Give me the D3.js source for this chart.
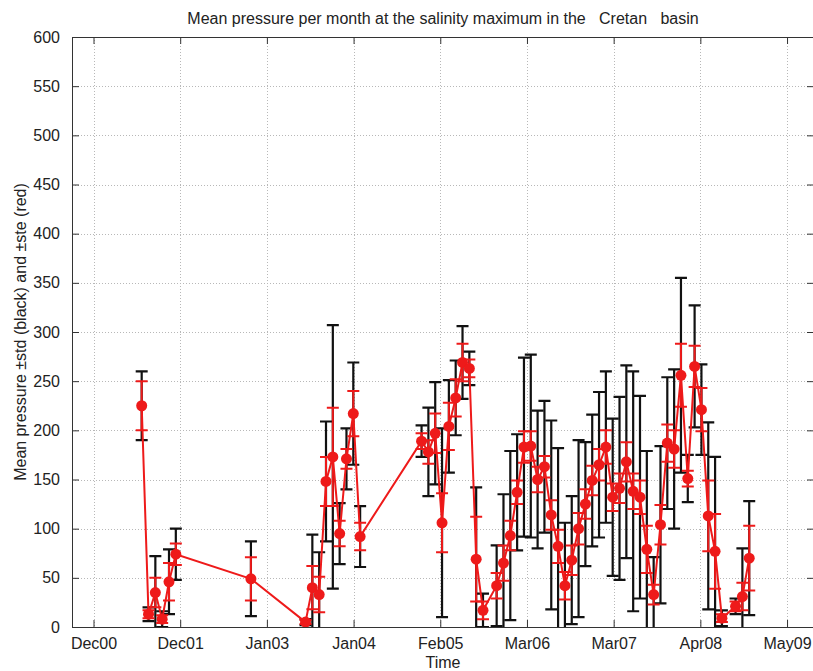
<!DOCTYPE html>
<html>
<head>
<meta charset="utf-8">
<script src="https://cdn.jsdelivr.net/npm/d3@7"></script>
<style>
  body { margin: 0; background: #fff; }
  text { font-family: "Liberation Sans", Arial, Helvetica, sans-serif; fill: #222; }
</style>
</head>
<body>
<svg id="chart" width="813" height="671"></svg>
<script>
// Monthly mean pressure (dbar) at the salinity maximum, Cretan basin
const months = [
  "2001-07","2001-08","2001-09","2001-10","2001-11","2001-12",
  "2002-11",
  "2003-07","2003-08","2003-09","2003-10","2003-11","2003-12","2004-01","2004-02","2004-03",
  "2004-12","2005-01","2005-02","2005-03","2005-04","2005-05","2005-06","2005-07","2005-08","2005-09",
  "2005-11","2005-12","2006-01","2006-02","2006-03","2006-04","2006-05","2006-06","2006-07","2006-08",
  "2006-09","2006-10","2006-11","2006-12","2007-01","2007-02","2007-03","2007-04","2007-05","2007-06",
  "2007-07","2007-08","2007-09","2007-10","2007-11","2007-12","2008-01","2008-02","2008-03","2008-04",
  "2008-05","2008-06","2008-07","2008-08",
  "2008-10","2008-11","2008-12"
];
const meanPressure = [
  225, 13, 35, 8, 46, 74,
  49,
  5, 40, 33, 148, 173, 95, 171, 217, 92,
  189, 178, 197, 106, 204, 233, 269, 263, 69, 17,
  42, 65, 93, 137, 183, 184, 150, 163, 114, 82,
  42, 68, 100, 125, 149, 165, 183, 132, 141, 168,
  138, 132, 79, 33, 104, 187, 181, 256, 151, 265,
  221, 113, 77, 9,
  21, 31, 70
];
const stdPressure = [
  35, 7, 37, 8, 33, 26,
  38,
  3, 54, 43, 61, 134, 31, 31, 52, 31,
  16, 45, 52, 96, 47, 38, 37, 17, 73, 17,
  41, 70, 86, 59, 91, 93, 70, 67, 96, 100,
  64, 65, 90, 63, 67, 74, 77, 80, 93, 98,
  122, 103, 100, 38, 80, 67, 81, 99, 24, 62,
  46, 95, 96, 8,
  8, 49, 58
];
const stePressure = [
  25, 4, 15, 4, 19, 11,
  22,
  2, 22, 18, 25, 50, 13, 10, 23, 14,
  8, 12, 20, 30, 24, 19, 19, 9, 43, 9,
  13, 18, 15, 12, 16, 15, 13, 11, 15, 17,
  14, 15, 16, 15, 15, 16, 17, 14, 15, 20,
  18, 17, 24, 10, 20, 19, 19, 32, 8, 21,
  22, 36, 38, 4,
  5, 14, 33
];

// Axis ticks (time axis in months since Jan 2000)
const xTickMonths = [10.94, 23.64, 36.34, 49.04, 61.74, 74.44, 87.14, 99.84, 112.54];
const xTickLabels = ["Dec00", "Dec01", "Jan03", "Jan04", "Feb05", "Mar06", "Mar07", "Apr08", "May09"];
const yTicks = [0, 50, 100, 150, 200, 250, 300, 350, 400, 450, 500, 550, 600];
const xLimits = [7.79, 116.49];
const yLimits = [0, 600];

const titleText = "Mean pressure per month at the salinity maximum in the \u00a0\u00a0Cretan \u00a0\u00a0basin";
const xLabelText = "Time";
const yLabelText = "Mean pressure \u00b1std (black) and \u00b1ste (red)";

const monthIndex = s => { const [y, m] = s.split("-").map(Number); return (y - 2000) * 12 + (m - 1); };

const data = months.map((m, i) => ({
  t: monthIndex(m), mean: meanPressure[i], std: stdPressure[i], ste: stePressure[i]
}));

const svg = d3.select("#chart");
const plot = { left: 72, right: 814, top: 37, bottom: 627 };

const x = d3.scaleLinear().domain(xLimits).range([plot.left, plot.right]);
const y = d3.scaleLinear().domain(yLimits).range([plot.bottom, plot.top]);

svg.append("defs").append("clipPath").attr("id", "plotClip")
  .append("rect")
  .attr("x", plot.left).attr("y", plot.top)
  .attr("width", plot.right - plot.left).attr("height", plot.bottom - plot.top);

// grid
const grid = svg.append("g").attr("stroke", "#b8b8b8").attr("stroke-width", 1)
  .attr("stroke-dasharray", "1,2").attr("shape-rendering", "crispEdges");
grid.selectAll("line.gx").data(xTickMonths).join("line")
  .attr("x1", d => Math.round(x(d)) + 0.5).attr("x2", d => Math.round(x(d)) + 0.5)
  .attr("y1", plot.top).attr("y2", plot.bottom);
grid.selectAll("line.gy").data(yTicks.filter(v => v > yLimits[0] && v < yLimits[1])).join("line")
  .attr("x1", plot.left).attr("x2", plot.right)
  .attr("y1", d => Math.round(y(d)) + 0.5).attr("y2", d => Math.round(y(d)) + 0.5);

// axes (ticks pointing inward, mirrored on opposite sides)
const tickLen = 7;
const xAxisBottom = d3.axisBottom(x).tickValues(xTickMonths)
  .tickFormat((d, i) => xTickLabels[i]).tickSizeInner(-tickLen).tickSizeOuter(0).tickPadding(tickLen + 4);
const xAxisTop = d3.axisTop(x).tickValues(xTickMonths).tickFormat("").tickSizeInner(-tickLen).tickSizeOuter(0);
const yAxisLeft = d3.axisLeft(y).tickValues(yTicks).tickFormat(d3.format("d"))
  .tickSizeInner(-tickLen).tickSizeOuter(0).tickPadding(tickLen + 5);
const yAxisRight = d3.axisRight(y).tickValues(yTicks).tickFormat("").tickSizeInner(-tickLen).tickSizeOuter(0);

function styleAxis(g) {
  g.select(".domain").attr("stroke", "#333");
  g.selectAll(".tick line").attr("stroke", "#333");
  g.selectAll(".tick text").attr("fill", "#222").style("font-size", "16px")
    .style("font-family", "\"Liberation Sans\", Arial, sans-serif");
}
svg.append("g").attr("transform", `translate(0,${plot.bottom})`).call(xAxisBottom).call(styleAxis);
svg.append("g").attr("transform", `translate(0,${plot.top})`).call(xAxisTop).call(styleAxis);
svg.append("g").attr("transform", `translate(${plot.left},0)`).call(yAxisLeft).call(styleAxis);
svg.append("g").attr("transform", `translate(${plot.right},0)`).call(yAxisRight).call(styleAxis);

const marks = svg.append("g").attr("clip-path", "url(#plotClip)");

// error bars: half-width of the caps
const capW = 6;
function errorBars(g, key, color, width) {
  const eb = g.append("g").attr("stroke", color).attr("stroke-width", width).attr("fill", "none");
  eb.selectAll("path").data(data).join("path")
    .attr("d", d => {
      const cx = x(d.t), lo = y(d.mean - d[key]), hi = y(d.mean + d[key]);
      return `M${cx},${lo}V${hi}M${cx - capW},${hi}H${cx + capW}M${cx - capW},${lo}H${cx + capW}`;
    });
}
errorBars(marks, "std", "#111", 2.2);
errorBars(marks, "ste", "#ee1a1a", 2);

// mean line and markers
marks.append("path").datum(data)
  .attr("fill", "none").attr("stroke", "#ee1a1a").attr("stroke-width", 2)
  .attr("d", d3.line().x(d => x(d.t)).y(d => y(d.mean)));
marks.append("g").selectAll("circle").data(data).join("circle")
  .attr("cx", d => x(d.t)).attr("cy", d => y(d.mean)).attr("r", 5.5)
  .attr("fill", "#ee1a1a");

// labels
svg.append("text").attr("x", (plot.left + plot.right) / 2).attr("y", 24)
  .attr("text-anchor", "middle").style("font-size", "16px").text(titleText);
svg.append("text").attr("x", (plot.left + plot.right) / 2).attr("y", 668)
  .attr("text-anchor", "middle").style("font-size", "16px").text(xLabelText);
svg.append("text").attr("transform", `translate(26,${(plot.top + plot.bottom) / 2}) rotate(-90)`)
  .attr("text-anchor", "middle").style("font-size", "16px").text(yLabelText);
</script>
</body>
</html>
